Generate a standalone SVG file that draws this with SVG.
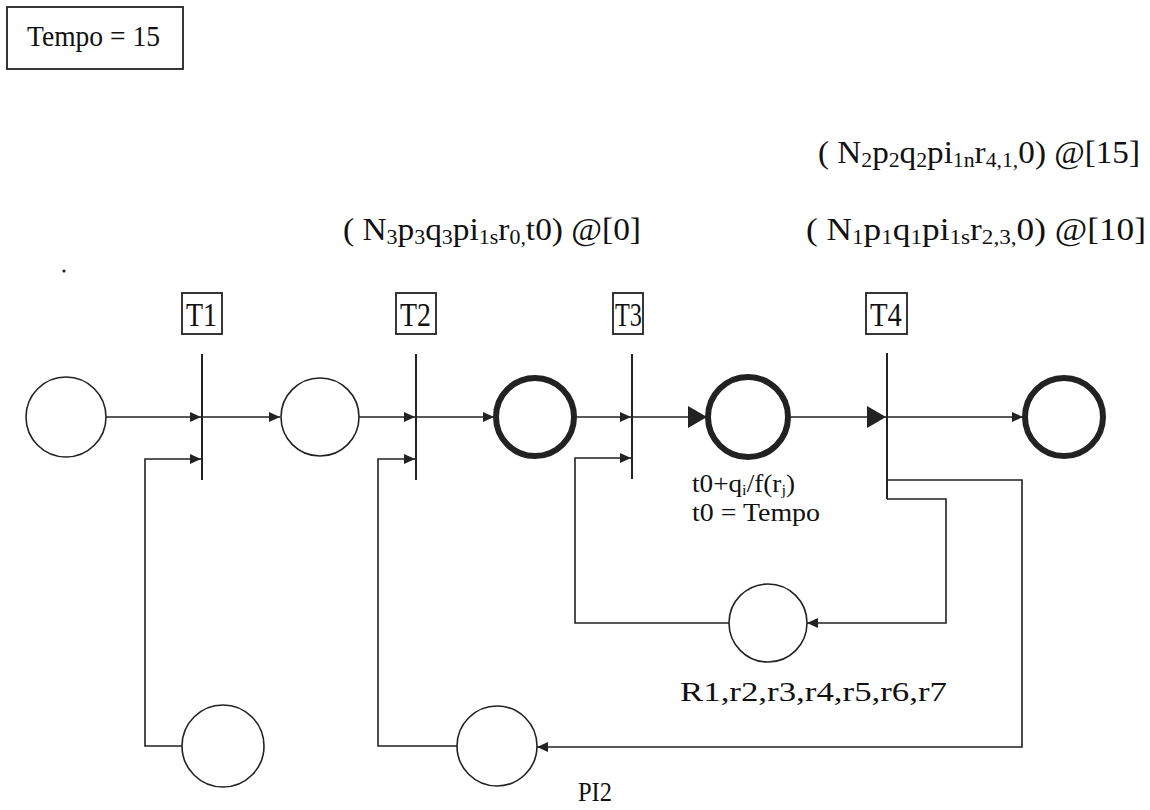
<svg xmlns="http://www.w3.org/2000/svg" width="1150" height="810" viewBox="0 0 1150 810">
<style>
text{font-family:"Liberation Serif","Times New Roman",serif;fill:#111}
.pl{fill:none;stroke:#222;stroke-width:1.6}
.thick{fill:none;stroke:#222;stroke-width:6}
.bar{stroke:#222;stroke-width:2}
.box{fill:none;stroke:#222;stroke-width:1.8}
.ln{fill:none;stroke:#222;stroke-width:1.6}
.sa{marker-end:url(#sm)}
.ba{marker-end:url(#bg)}
</style>
<defs>
<marker id="sm" markerUnits="userSpaceOnUse" markerWidth="12" markerHeight="10" refX="11" refY="5" orient="auto"><path d="M0,0 L11,5 L0,10 z" fill="#222"/></marker>
<marker id="bg" markerUnits="userSpaceOnUse" markerWidth="20" markerHeight="22" refX="19" refY="11" orient="auto"><path d="M0,0 L19,11 L0,22 z" fill="#222"/></marker>
</defs>

<g id="tempo">
<rect class="box" x="7" y="7" width="176" height="62"/>
<text x="27" y="46" font-size="30" textLength="133" lengthAdjust="spacingAndGlyphs">Tempo = 15</text>
</g>
<circle cx="64" cy="271" r="1.6" fill="#222"/>

<g id="labels">
<text x="818" y="163" font-size="32" textLength="322" lengthAdjust="spacingAndGlyphs">( N<tspan font-size="21" dy="4">2</tspan><tspan dy="-4">p</tspan><tspan font-size="21" dy="4">2</tspan><tspan dy="-4">q</tspan><tspan font-size="21" dy="4">2</tspan><tspan dy="-4">pi</tspan><tspan font-size="21" dy="4">1n</tspan><tspan dy="-4">r</tspan><tspan font-size="21" dy="4">4,1,</tspan><tspan dy="-4">0) @[15]</tspan></text>
<text x="343" y="240" font-size="32" textLength="298" lengthAdjust="spacingAndGlyphs">( N<tspan font-size="21" dy="4">3</tspan><tspan dy="-4">p</tspan><tspan font-size="21" dy="4">3</tspan><tspan dy="-4">q</tspan><tspan font-size="21" dy="4">3</tspan><tspan dy="-4">pi</tspan><tspan font-size="21" dy="4">1s</tspan><tspan dy="-4">r</tspan><tspan font-size="21" dy="4">0,</tspan><tspan dy="-4">t0) @[0]</tspan></text>
<text x="806" y="240" font-size="32" textLength="340" lengthAdjust="spacingAndGlyphs">( N<tspan font-size="21" dy="4">1</tspan><tspan dy="-4">p</tspan><tspan font-size="21" dy="4">1</tspan><tspan dy="-4">q</tspan><tspan font-size="21" dy="4">1</tspan><tspan dy="-4">pi</tspan><tspan font-size="21" dy="4">1s</tspan><tspan dy="-4">r</tspan><tspan font-size="21" dy="4">2,3,</tspan><tspan dy="-4">0) @[10]</tspan></text>
</g>

<g id="T1">
<rect class="box" x="182" y="293" width="40" height="41"/>
<text x="186" y="326" font-size="34" textLength="31" lengthAdjust="spacingAndGlyphs">T1</text>
<line class="bar" x1="202" y1="354" x2="202" y2="480"/>
</g>
<g id="T2">
<rect class="box" x="396" y="293" width="40" height="41"/>
<text x="400" y="326" font-size="34" textLength="31" lengthAdjust="spacingAndGlyphs">T2</text>
<line class="bar" x1="416" y1="354" x2="416" y2="480"/>
</g>
<g id="T3">
<rect class="box" x="613" y="293" width="30" height="41"/>
<text x="615" y="326" font-size="34" textLength="27" lengthAdjust="spacingAndGlyphs">T3</text>
<line class="bar" x1="632" y1="354" x2="632" y2="479"/>
</g>
<g id="T4">
<rect class="box" x="866" y="293" width="41" height="41"/>
<text x="870" y="326" font-size="34" textLength="32" lengthAdjust="spacingAndGlyphs">T4</text>
<line class="bar" x1="887" y1="353" x2="887" y2="499"/>
</g>

<g id="P1"><circle class="pl" cx="66" cy="417" r="40"/></g>
<g id="P2"><circle class="pl" cx="320" cy="417" r="39"/></g>
<g id="P3"><circle class="thick" cx="535" cy="417" r="39"/></g>
<g id="P4"><circle class="thick" cx="748" cy="417" r="40"/>
<text x="692" y="492" font-size="25" textLength="103" lengthAdjust="spacingAndGlyphs">t0+q<tspan font-size="15" dy="3">i</tspan><tspan dy="-3">/f(r</tspan><tspan font-size="15" dy="3">j</tspan><tspan dy="-3">)</tspan></text>
<text x="692" y="521" font-size="25" textLength="128" lengthAdjust="spacingAndGlyphs">t0 = Tempo</text>
</g>
<g id="P5"><circle class="thick" cx="1064" cy="417" r="39"/></g>
<g id="R"><circle class="pl" cx="768" cy="623" r="39"/>
<text x="680" y="701" font-size="28" textLength="267" lengthAdjust="spacingAndGlyphs">R1,r2,r3,r4,r5,r6,r7</text>
</g>
<g id="PI1"><circle class="pl" cx="223" cy="746" r="41"/></g>
<g id="PI2"><circle class="pl" cx="497" cy="746" r="40"/>
<text x="578" y="801" font-size="28" textLength="34" lengthAdjust="spacingAndGlyphs">PI2</text>
</g>

<g id="connectors">
<line class="ln sa" x1="106" y1="417" x2="201" y2="417"/>
<line class="ln sa" x1="202" y1="417" x2="280" y2="417"/>
<line class="ln sa" x1="359" y1="417" x2="415" y2="417"/>
<line class="ln sa" x1="416" y1="417" x2="494" y2="417"/>
<line class="ln sa" x1="577" y1="417" x2="631" y2="417"/>
<line class="ln ba" x1="632" y1="417" x2="707" y2="417"/>
<line class="ln ba" x1="791" y1="417" x2="886" y2="417"/>
<line class="ln sa" x1="887" y1="417" x2="1023" y2="417"/>
<polyline class="ln sa" points="182,746 145,746 145,459 201,459"/>
<polyline class="ln sa" points="457,746 378,746 378,459 415,459"/>
<polyline class="ln sa" points="729,623 575,623 575,458 631,458"/>
<polyline class="ln sa" points="887,480 1022,480 1022,747 537,747"/>
<polyline class="ln sa" points="887,499 946,499 946,623 807,623"/>
</g>
</svg>
